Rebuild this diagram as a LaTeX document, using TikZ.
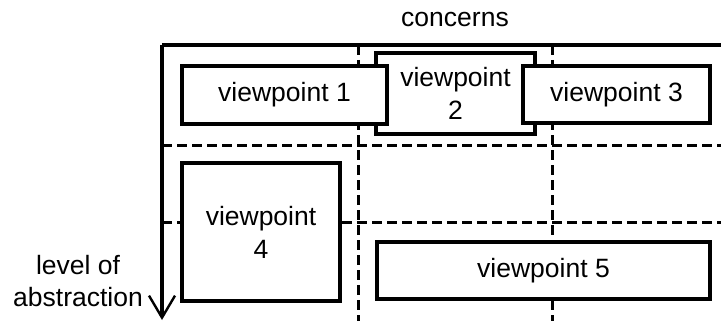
\documentclass[tikz,border=0pt]{standalone}
\usepackage{fontspec}
\setmainfont{Liberation Sans}
\usetikzlibrary{arrows.meta}
\begin{document}
\begin{tikzpicture}[x=1pt,y=-1pt,
  vbox/.style={draw,line width=3.2pt,fill=white,inner sep=0pt,align=center,
    font=\fontsize{26.5}{33}\selectfont},
  lbl/.style={inner sep=0pt,align=center,font=\fontsize{26.5}{32}\selectfont},
  grid/.style={line width=3pt,dash pattern=on 10pt off 5pt},
  axis/.style={line width=3.4pt}]
\useasboundingbox (0,0) rectangle (721,321);
% axes coordinates
\coordinate (o) at (162,45);
\coordinate (xr) at (721,45);
\coordinate (yb) at (162,320);
% dashed grid
\coordinate (v1t) at (358,45); \coordinate (v1b) at (358,321);
\coordinate (v2t) at (552,45); \coordinate (v2b) at (552,321);
\coordinate (h1l) at (162,145); \coordinate (h1r) at (721,145);
\coordinate (h2l) at (162,222); \coordinate (h2r) at (721,222);
\draw[grid] (v1t) -- (v1b);
\draw[grid] (v2t) -- (v2b);
\draw[grid] (h1l) -- (h1r);
\draw[grid] (h2l) -- (h2r);
% axes
\draw[axis] (o) -- (xr);
\draw[axis,-{Straight Barb[length=22pt,width=26pt,line width=2.4pt]}] (o) -- (yb);
% labels
\node[lbl] (concerns) at (455,20) {concerns};
\node[lbl] (level) at (78,281) {level of\\abstraction};
% boxes
\node[vbox,minimum width=159pt,minimum height=81pt] (vp2) at (455.5,93.5) {viewpoint\\2};
\node[vbox,minimum width=205pt,minimum height=58pt] (vp1) at (284.5,95) {viewpoint 1};
\node[vbox,minimum width=187pt,minimum height=57pt] (vp3) at (616.5,94.5) {viewpoint 3};
\node[vbox,minimum width=158pt,minimum height=138pt] (vp4) at (261,232) {viewpoint\\4};
\node[vbox,minimum width=333pt,minimum height=57pt] (vp5) at (543.5,270.5) {viewpoint 5};
\end{tikzpicture}
\end{document}
